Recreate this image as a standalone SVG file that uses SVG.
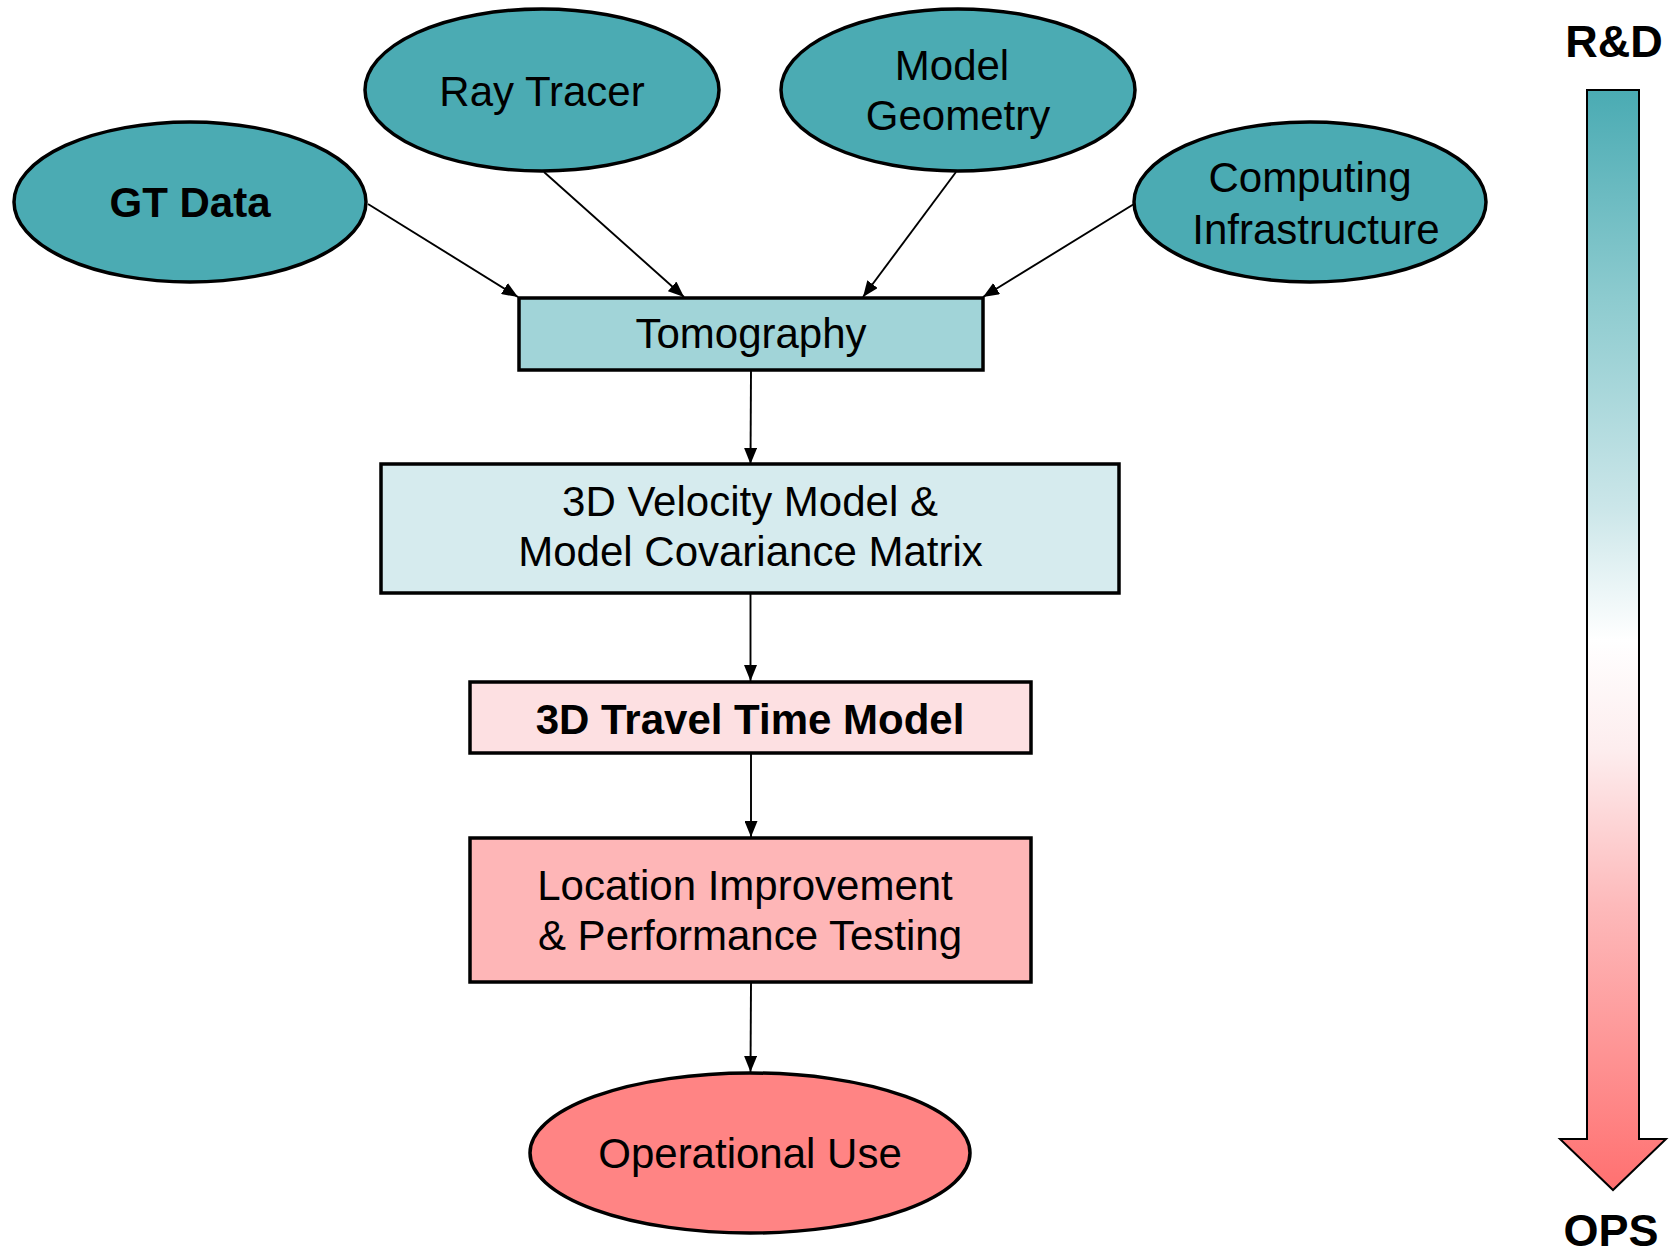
<svg xmlns="http://www.w3.org/2000/svg" width="1680" height="1256" viewBox="0 0 1680 1256">
  <defs>
    <style>
      .lbl { font-family: "Liberation Sans", Arial, sans-serif; font-size: 42px; fill: #000; text-anchor: middle; }
      .bold { font-weight: bold; }
      .node { stroke: #000; stroke-width: 3.5; }
      .teal { fill: #4BABB3; }
      .edge { stroke: #000; stroke-width: 1.9; fill: none; marker-end: url(#arrow); }
    </style>
    <marker id="arrow" viewBox="0 0 16 13" refX="16" refY="6.5" markerWidth="16" markerHeight="13" markerUnits="userSpaceOnUse" orient="auto">
      <path d="M0,0 L16,6.5 L0,13 Z" fill="#000"/>
    </marker>
    <linearGradient id="scale" gradientUnits="userSpaceOnUse" x1="0" y1="90" x2="0" y2="1190">
      <stop offset="0" stop-color="#4AABB3"/>
      <stop offset="0.19" stop-color="#8DCBCF"/>
      <stop offset="0.38" stop-color="#CBE6E9"/>
      <stop offset="0.5" stop-color="#FFFFFF"/>
      <stop offset="0.6" stop-color="#FDEDEE"/>
      <stop offset="0.74" stop-color="#FDBABB"/>
      <stop offset="1" stop-color="#FF7070"/>
    </linearGradient>
  </defs>

  <rect width="1680" height="1256" fill="#fff"/>

  <!-- connectors -->
  <g id="connectors">
    <line class="edge" x1="368" y1="204" x2="518" y2="297"/>
    <line class="edge" x1="544" y1="172" x2="684" y2="297"/>
    <line class="edge" x1="956" y1="172" x2="863" y2="297"/>
    <line class="edge" x1="1134" y1="204" x2="983" y2="297"/>
    <line class="edge" x1="751" y1="370" x2="750.5" y2="464"/>
    <line class="edge" x1="750.5" y1="594" x2="750.5" y2="681"/>
    <line class="edge" x1="751" y1="753" x2="751" y2="837"/>
    <line class="edge" x1="751" y1="983" x2="750.5" y2="1072"/>
  </g>

  <!-- source nodes -->
  <g id="gt-data">
    <ellipse class="node teal" cx="190" cy="202" rx="176" ry="80"/>
    <text class="lbl bold" x="190" y="217">GT Data</text>
  </g>
  <g id="ray-tracer">
    <ellipse class="node teal" cx="542" cy="90" rx="177" ry="81"/>
    <text class="lbl" x="542" y="106">Ray Tracer</text>
  </g>
  <g id="model-geometry">
    <ellipse class="node teal" cx="958" cy="90" rx="177" ry="81"/>
    <text class="lbl" x="952" y="80">Model</text>
    <text class="lbl" x="958" y="130">Geometry</text>
  </g>
  <g id="computing-infrastructure">
    <ellipse class="node teal" cx="1310" cy="202" rx="176" ry="80"/>
    <text class="lbl" x="1310" y="192">Computing</text>
    <text class="lbl" x="1316" y="244">Infrastructure</text>
  </g>

  <!-- processing chain -->
  <g id="tomography">
    <rect class="node" x="519" y="298" width="464" height="72" fill="#A1D4D8"/>
    <text class="lbl" x="751" y="348">Tomography</text>
  </g>
  <g id="velocity-model">
    <rect class="node" x="381" y="464" width="738" height="129" fill="#D6EBEE"/>
    <text class="lbl" x="750" y="516">3D Velocity Model &amp;</text>
    <text class="lbl" x="750.5" y="566">Model Covariance Matrix</text>
  </g>
  <g id="travel-time-model">
    <rect class="node" x="470" y="682" width="561" height="71" fill="#FDE0E2"/>
    <text class="lbl bold" x="750" y="734">3D Travel Time Model</text>
  </g>
  <g id="location-improvement">
    <rect class="node" x="470" y="838" width="561" height="144" fill="#FEB6B7"/>
    <text class="lbl" x="745" y="900">Location Improvement</text>
    <text class="lbl" x="750" y="950">&amp; Performance Testing</text>
  </g>
  <g id="operational-use">
    <ellipse class="node" cx="750" cy="1153" rx="220" ry="80" fill="#FF8484"/>
    <text class="lbl" x="750" y="1168">Operational Use</text>
  </g>

  <!-- R&D to OPS scale arrow -->
  <g id="scale-arrow">
    <text class="lbl bold" x="1614" y="57" style="font-size:45px">R&amp;D</text>
    <path d="M1587,90 L1639,90 L1639,1139 L1666,1139 L1613,1190 L1560,1139 L1587,1139 Z" fill="url(#scale)" stroke="#000" stroke-width="2"/>
    <text class="lbl bold" x="1611" y="1246" style="font-size:45px">OPS</text>
  </g>
</svg>
